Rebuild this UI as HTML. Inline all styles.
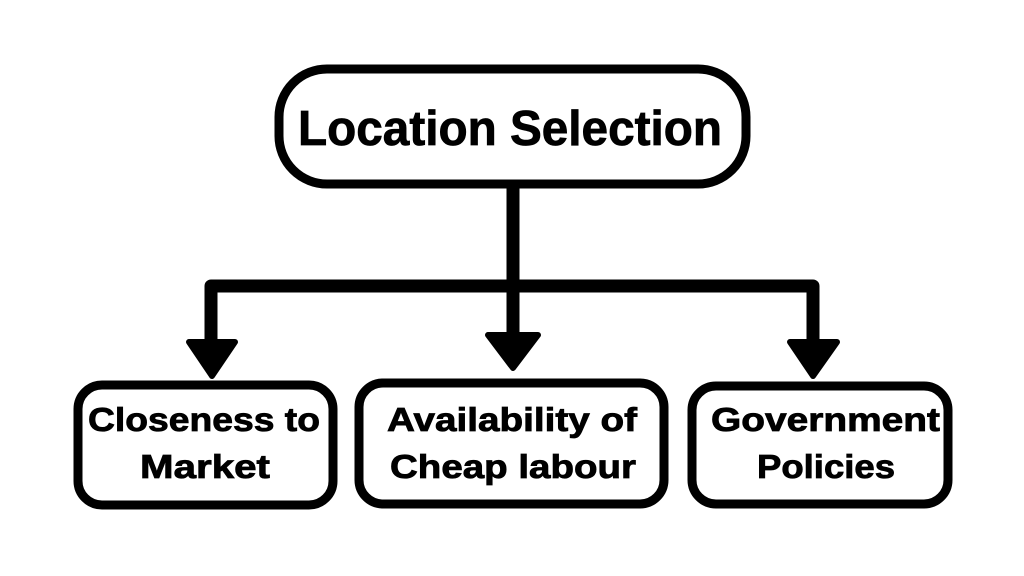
<!DOCTYPE html>
<html><head><style>
html,body{margin:0;padding:0;background:#fff;width:1024px;height:576px;overflow:hidden}
text{font-family:"Liberation Sans",sans-serif;font-weight:bold;fill:#000;stroke:#000;stroke-width:0.8}
</style></head><body>
<svg width="1024" height="576" viewBox="0 0 1024 576" xmlns="http://www.w3.org/2000/svg">
<rect width="1024" height="576" fill="#fff"/>
<g fill="none" stroke="#000" stroke-width="9" stroke-linejoin="round" stroke-linecap="round">
<rect x="279" y="69" width="467" height="115" rx="48"/>
<rect x="78" y="385" width="255" height="120" rx="24"/>
<rect x="359" y="383" width="305" height="121" rx="24"/>
<rect x="692" y="386" width="256" height="118" rx="24"/>
</g>
<g fill="none" stroke="#000" stroke-width="13" stroke-linejoin="round">
<path d="M513 186 V335"/>
<path d="M211 342 V286 H813 V342"/>
</g>
<g fill="#000" stroke="#000" stroke-width="6" stroke-linejoin="round">
<polygon points="189,342 235,342 212,376"/>
<polygon points="488,335 538,335 513,368"/>
<polygon points="790,342 837,342 813,376"/>
</g>
<text x="298" y="145" font-size="49" textLength="424" lengthAdjust="spacingAndGlyphs">Location Selection</text>
<text x="88" y="431" font-size="33" textLength="232" lengthAdjust="spacingAndGlyphs">Closeness to</text>
<text x="140" y="478" font-size="33" textLength="130" lengthAdjust="spacingAndGlyphs">Market</text>
<text x="387" y="431" font-size="33" textLength="250" lengthAdjust="spacingAndGlyphs">Availability of</text>
<text x="390" y="478" font-size="33" textLength="246" lengthAdjust="spacingAndGlyphs">Cheap labour</text>
<text x="711" y="431" font-size="33" textLength="229" lengthAdjust="spacingAndGlyphs">Government</text>
<text x="757" y="478" font-size="33" textLength="138" lengthAdjust="spacingAndGlyphs">Policies</text>
</svg>
</body></html>
